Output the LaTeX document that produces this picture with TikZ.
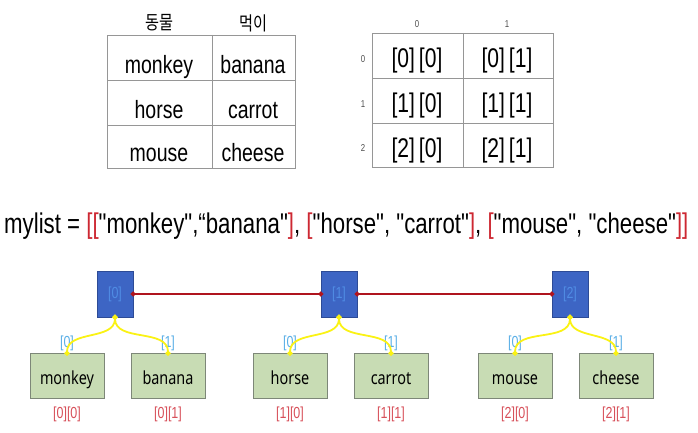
\documentclass[tikz,border=0pt]{standalone}
\usepackage{fontspec}
\setmainfont{Liberation Sans}
\newfontfamily\narrowfont[FakeStretch=0.78]{Liberation Sans}
\newfontfamily\boxfont[FakeStretch=0.8]{Noto Sans}
\newfontfamily\krfont[FakeStretch=0.8]{Noto Sans CJK KR}
\usetikzlibrary{arrows.meta}
\definecolor{cellline}{RGB}{150,150,150}
\definecolor{listred}{RGB}{205,40,50}
\definecolor{idxred}{RGB}{215,80,90}
\definecolor{idxcyan}{RGB}{90,175,230}
\definecolor{rowblue}{RGB}{61,101,196}
\definecolor{rowtext}{RGB}{80,140,228}
\definecolor{rowedge}{RGB}{45,75,150}
\definecolor{leafgreen}{RGB}{200,220,180}
\definecolor{leafedge}{RGB}{125,135,120}
\definecolor{linkred}{RGB}{175,20,30}
\definecolor{curveyellow}{RGB}{250,242,20}
\begin{document}
\begin{tikzpicture}[
  x=1pt, y=-1pt,
  tablegrid/.style={draw=cellline, line width=0.8pt},
  namecell/.style={anchor=base, inner sep=0pt, font=\narrowfont\fontsize{25}{30}\selectfont},
  poscell/.style={anchor=base, inner sep=0pt, font=\narrowfont\fontsize{27}{32}\selectfont},
  headcell/.style={inner sep=0pt, font=\krfont\fontsize{19}{21}\selectfont},
  axislabel/.style={inner sep=0pt, text=black!70, font=\narrowfont\fontsize{10}{12}\selectfont},
  rowbox/.style={draw=rowedge, fill=rowblue, minimum width=36pt, minimum height=46pt, inner sep=0pt,
    text=rowtext, font=\narrowfont\fontsize{16}{18}\selectfont},
  leafbox/.style={draw=leafedge, fill=leafgreen, minimum width=74pt, minimum height=45pt, inner sep=0pt,
    text height=20pt, text depth=3pt, font=\boxfont\fontsize{18}{20}\selectfont},
  idxtop/.style={inner sep=0pt, text=idxcyan, label distance=2pt, font=\narrowfont\fontsize{16}{18}\selectfont},
  idxbot/.style={inner sep=0pt, text=idxred, label distance=8pt, font=\narrowfont\fontsize{16}{18}\selectfont},
  rowlink/.style={draw=linkred, line width=1.4pt, shorten <=-2.5pt, shorten >=-2.5pt,
    {Circle[length=5pt]}-{Circle[length=5pt]}},
  branch/.style={draw=curveyellow, line width=1.8pt, shorten <=-2.5pt, shorten >=-2.5pt,
    {Circle[length=5pt]}-{Circle[length=5pt]}}
]
\useasboundingbox (0,0) rectangle (698,433);

% table of names
\draw[tablegrid] (107,35) rectangle (295,168);
\draw[tablegrid] (107,80) -- (295,80) (107,125) -- (295,125) (212,35) -- (212,168);
\node[headcell] (h-animal) at (159,23) {동물};
\node[headcell] (h-food) at (253,23) {먹이};
\node[namecell] (t-monkey) at (159,74) {monkey};
\node[namecell] (t-banana) at (253,74) {banana};
\node[namecell] (t-horse) at (159,118) {horse};
\node[namecell] (t-carrot) at (253,118) {carrot};
\node[namecell] (t-mouse) at (159,161) {mouse};
\node[namecell] (t-cheese) at (253,161) {cheese};

% table of positions
\draw[tablegrid] (372,33) rectangle (553,167);
\draw[tablegrid] (372,78) -- (553,78) (372,123) -- (553,123) (463,33) -- (463,167);
\node[axislabel] (c0) at (417,24) {0};
\node[axislabel] (c1) at (507,24) {1};
\foreach \r/\y in {0/68,1/113,2/157} {
  \node[axislabel] (r\r) at (363,\y-9) {\r};
  \node[poscell] (p\r0) at (417,\y) {[\r]\hspace{4pt}[0]};
  \node[poscell] (p\r1) at (507,\y) {[\r]\hspace{4pt}[1]};
}

% list literal
\node[anchor=base west, inner sep=0pt, font=\narrowfont\fontsize{28.5}{32}\selectfont] (mylist) at (4,233)
  {mylist = \textcolor{listred}{[[}"monkey",“banana"\textcolor{listred}{]}, \textcolor{listred}{[}"horse", "carrot"\textcolor{listred}{]}, \textcolor{listred}{[}"mouse", "cheese"\textcolor{listred}{]]}};

% outer list
\node[rowbox] (row0) at (115,294) {[0]};
\node[rowbox] (row1) at (339,294) {[1]};
\node[rowbox] (row2) at (570,294) {[2]};
\draw[rowlink] (row0.east) -- (row1.west);
\draw[rowlink] (row1.east) -- (row2.west);

% inner lists
\node[leafbox, label={[idxtop]above:[0]}, label={[idxbot]below:[0][0]}] (leaf00) at (67,376) {monkey};
\node[leafbox, label={[idxtop]above:[1]}, label={[idxbot]below:[0][1]}] (leaf01) at (168,376) {banana};
\node[leafbox, label={[idxtop]above:[0]}, label={[idxbot]below:[1][0]}] (leaf10) at (290,376) {horse};
\node[leafbox, label={[idxtop]above:[1]}, label={[idxbot]below:[1][1]}] (leaf11) at (391,376) {carrot};
\node[leafbox, label={[idxtop]above:[0]}, label={[idxbot]below:[2][0]}] (leaf20) at (515,376) {mouse};
\node[leafbox, label={[idxtop]above:[1]}, label={[idxbot]below:[2][1]}] (leaf21) at (616,376) {cheese};
\foreach \r in {0,1,2} {
  \draw[branch] (row\r.south) to[out=-90, in=90] (leaf\r0.north);
  \draw[branch] (row\r.south) to[out=-90, in=90] (leaf\r1.north);
}
\end{tikzpicture}
\end{document}
